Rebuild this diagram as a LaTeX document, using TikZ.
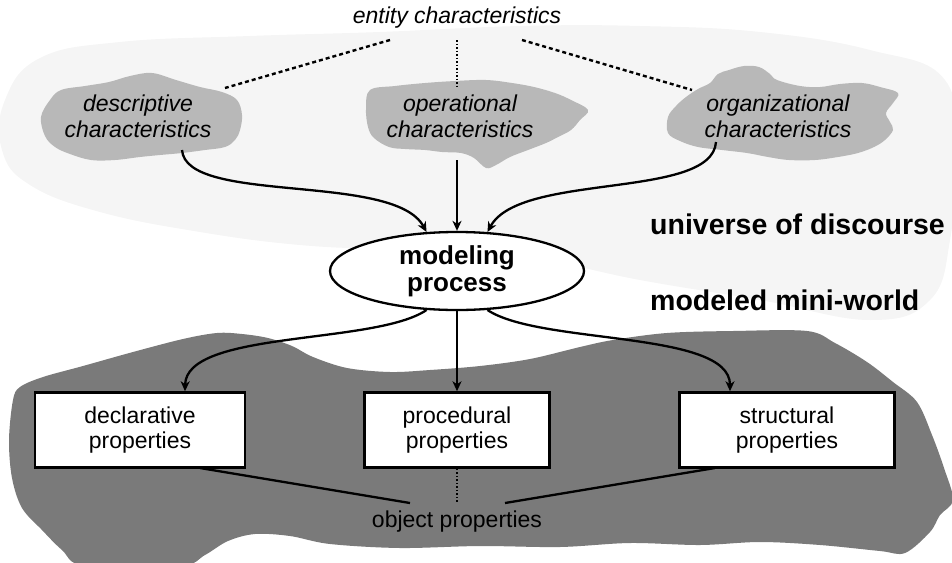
\documentclass[tikz,border=0pt]{standalone}
\usepackage{fontspec}
\setmainfont{Liberation Sans}
\usetikzlibrary{shapes.geometric,arrows.meta,calc}

\definecolor{hazegray}{gray}{0.962}
\definecolor{cloudgray}{gray}{0.72}
\definecolor{worldgray}{gray}{0.48}

\tikzset{
  lbl/.style={font=\fontsize{23}{25}\selectfont, align=center, inner sep=0pt},
  charlbl/.style={lbl, font=\fontsize{23}{26}\selectfont\itshape},
  boldlbl/.style={font=\fontsize{28.5}{30}\selectfont\bfseries, inner sep=0pt},
  propbox/.style={draw, line width=2.5pt, fill=white, minimum height=75pt, inner sep=0pt,
                  font=\fontsize{23}{25}\selectfont, align=center},
  procell/.style={ellipse, draw, line width=2.3pt, fill=white, minimum width=254pt,
                  minimum height=78pt, inner sep=0pt, align=center,
                  font=\fontsize{26}{27}\selectfont\bfseries},
  arr/.style={line width=2.3pt, -{Stealth[length=10pt,width=9pt,inset=3pt]}},
  link/.style={line width=2.3pt},
  dashlink/.style={line width=2.4pt, dash pattern=on 4pt off 3pt},
  dotlink/.style={line width=1.6pt, dash pattern=on 1.5pt off 2pt},
}

\begin{document}
\begin{tikzpicture}[x=1pt,y=-1pt]
\useasboundingbox (0,0) rectangle (952,562);

% pale haze of the universe of discourse
\fill[hazegray] plot[smooth cycle, tension=0.7] coordinates {
  (5,100) (40,58) (120,42) (250,36) (380,32) (520,26) (640,26) (760,32)
  (870,50) (945,80) (955,160) (950,240) (930,300) (870,320) (760,300)
  (640,280) (520,256) (400,250) (300,245) (200,232) (100,212) (30,185) (2,150)};

% dark region of the modeled mini-world
\fill[worldgray] plot[smooth cycle, tension=0.55] coordinates {
  (13,400) (20,387) (43,377) (83,366) (133,352) (183,339) (217,333) (242,334)
  (268,338) (292,346) (313,357) (347,368) (390,372) (430,370) (480,366)
  (530,359) (580,347) (613,340) (667,333) (733,331) (807,331) (835,343)
  (867,362) (893,382) (917,402) (932,435) (944,468) (953,500) (940,515)
  (930,532) (905,553) (880,551) (820,545) (760,542) (700,545) (630,543)
  (560,547) (480,546) (400,548) (330,544) (290,536) (255,534) (228,541)
  (205,555) (180,566) (85,566) (62,550) (42,530) (22,508) (12,478) (9,440)};

% characteristic clouds
\fill[cloudgray] plot[smooth cycle, tension=0.6] coordinates {
  (41,117) (50,100) (61,90) (85,86) (109,82) (130,76) (152,73) (176,80)
  (200,87) (222,92) (237,100) (242,115) (240,130) (235,140) (225,147)
  (205,150) (182,153) (160,155) (140,157) (115,160) (91,160) (70,154)
  (55,147) (45,136)};
\fill[cloudgray] plot[smooth cycle, tension=0.6] coordinates {
  (370,90) (395,86) (425,83) (455,81) (486,80) (512,83) (534,87) (555,93)
  (571,100) (588,110) (580,120) (571,130) (558,137) (546,143) (528,150)
  (510,157) (496,165) (486,168) (474,158) (461,153) (442,152) (425,150)
  (405,149) (389,147) (374,138) (368,127) (366,108)};
\fill[cloudgray] plot[smooth cycle, tension=0.6] coordinates {
  (668,117) (676,106) (686,97) (698,89) (710,83) (718,74) (729,70) (744,66)
  (759,67) (770,74) (777,80) (800,86) (820,87) (840,84) (862,83) (880,87)
  (898,93) (893,103) (886,113) (890,122) (893,130) (885,140) (874,147)
  (858,153) (838,157) (815,160) (789,160) (768,157) (747,153) (722,150)
  (698,147) (680,141) (668,133)};

% labels
\node[charlbl] (ent) at (457,18) {entity characteristics};
\node[charlbl] (desc) at (138,116) {descriptive\\characteristics};
\node[charlbl] (oper) at (460,116) {operational\\characteristics};
\node[charlbl] (orga) at (778,116) {organizational\\characteristics};

\node[boldlbl, anchor=west] (uod) at (650,224) {universe of discourse};
\node[boldlbl, anchor=west] (mmw) at (650,300) {modeled mini-world};

\node[procell] (proc) at (457,271) {modeling\\process};

\node[propbox, minimum width=210pt] (decl) at (140,430) {declarative\\properties};
\node[propbox, minimum width=185pt] (pro) at (457,430) {procedural\\properties};
\node[propbox, minimum width=215pt] (stru) at (787,430) {structural\\properties};

\node[lbl] (obj) at (457,522) {object properties};

% end points of the connectors
\coordinate (eL) at (390,40);
\coordinate (eM) at (457,40);
\coordinate (eR) at (522,40);
\coordinate (cL) at (225,88);
\coordinate (cM) at (457,88);
\coordinate (cR) at (692,90);
\coordinate (dOut) at (182,150);
\coordinate (oOut) at (457,160);
\coordinate (gOut) at (716,142);
\coordinate (jL) at (200,468);
\coordinate (jR) at (715,468);
\coordinate (oL) at (410,503);
\coordinate (oM) at (457,503);
\coordinate (oR) at (505,503);

% entity characteristics split into three kinds
\draw[dashlink] (eL) -- (cL);
\draw[dotlink] (eM) -- (cM);
\draw[dashlink] (eR) -- (cR);

% characteristics feed the modeling process
\draw[arr] (dOut) .. controls (186,205) and (394,172) .. (proc.128);
\draw[arr] (oOut) -- (proc.north);
\draw[arr] (gOut) .. controls (712,200) and (520,172) .. (proc.52);

% modeling process yields the properties
\draw[arr] (proc.232) .. controls (375,345) and (186,330) .. (decl.north -| 185,0);
\draw[arr] (proc.south) -- (pro.north);
\draw[arr] (proc.308) .. controls (540,345) and (730,330) .. (stru.north -| 730,0);

% properties combine into object properties
\draw[link] (jL) -- (oL);
\draw[dotlink] (pro.south) -- (oM);
\draw[link] (jR) -- (oR);
\end{tikzpicture}
\end{document}
